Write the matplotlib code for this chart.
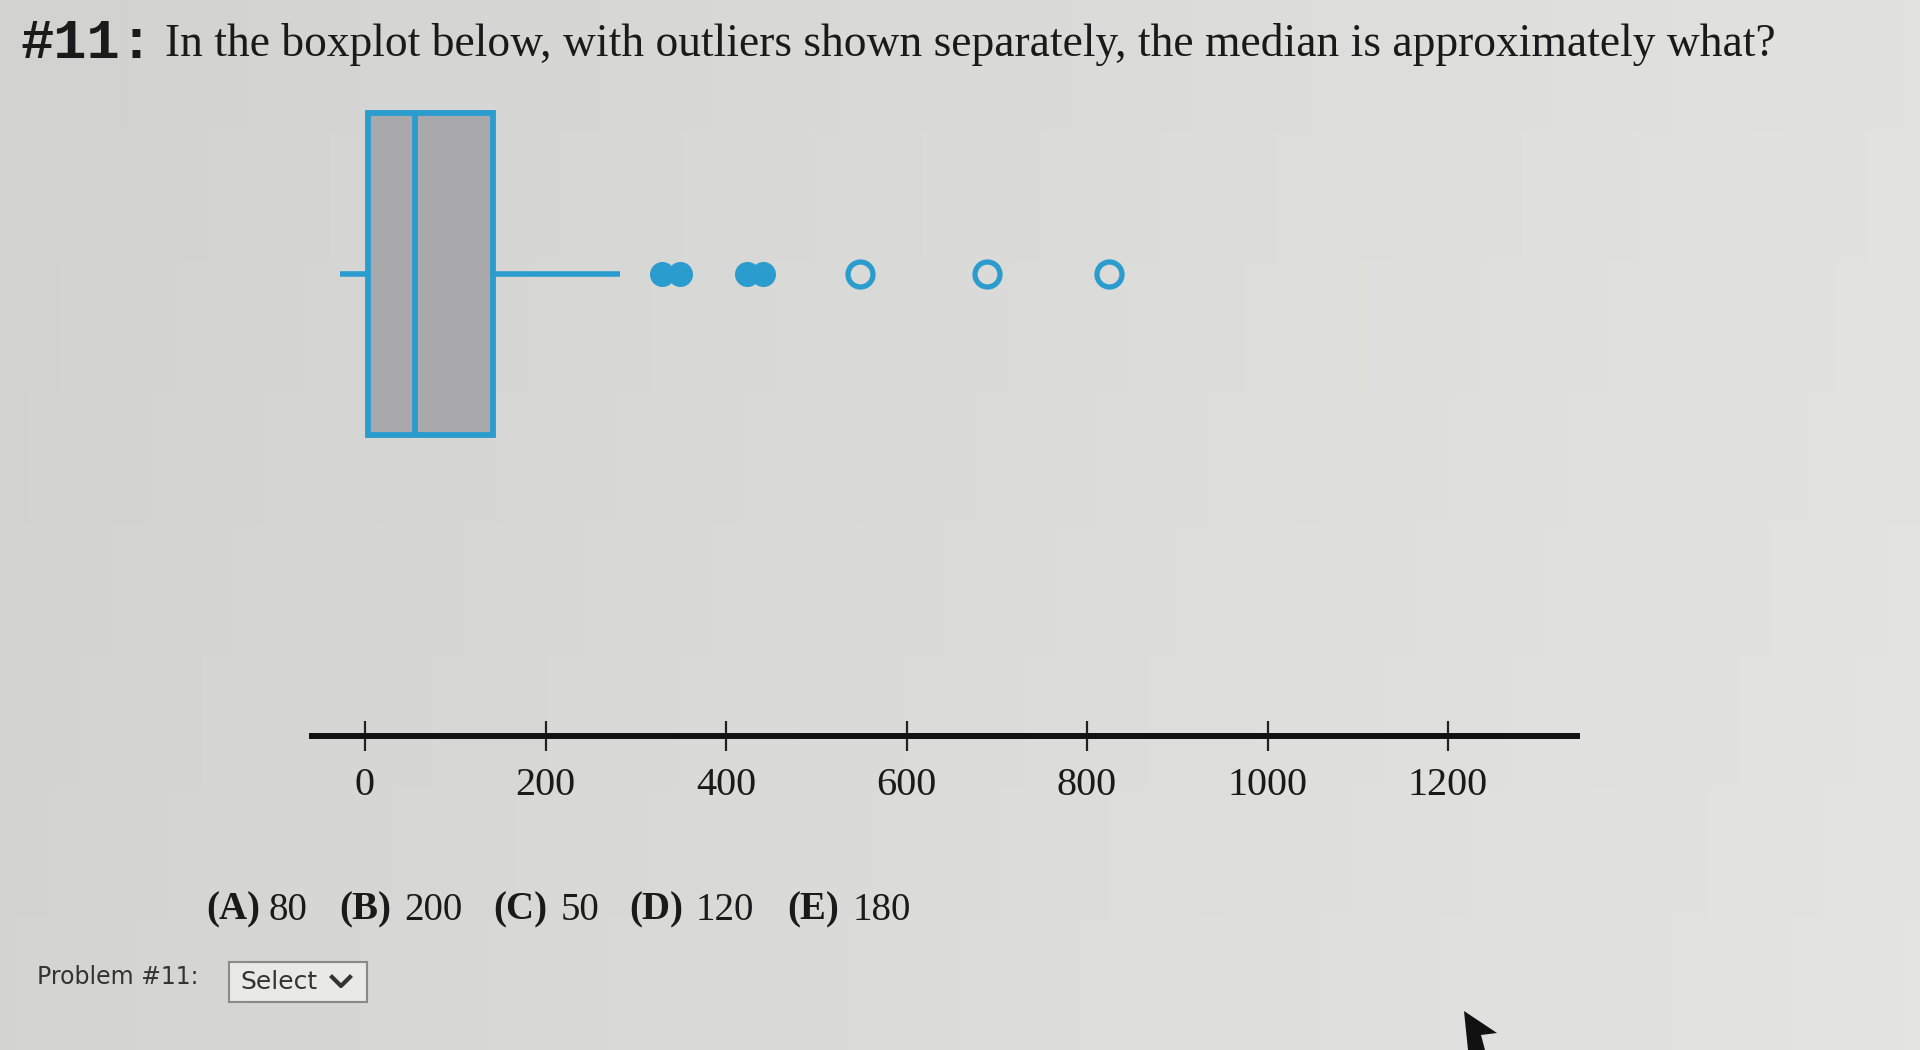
import matplotlib.pyplot as plt
import numpy as np
from matplotlib.patches import Rectangle, Polygon
from matplotlib.lines import Line2D
from matplotlib.colors import LinearSegmentedColormap

# boxplot summary
whislo, q1, med, q3, whishi = -28, 3, 55, 142, 283
fliers_filled = [329, 349, 423, 441]
fliers_hollow = [548, 689, 824]
ticks = [0, 200, 400, 600, 800, 1000, 1200]
choice_letters = ['A', 'B', 'C', 'D', 'E']
choice_values = ['80', '200', '50', '120', '180']

blue = '#2a9ccd'
box_gray = '#a9a9ab'
W, H = 1920, 1050

fig = plt.figure(figsize=(W / 100, H / 100), dpi=100)

# photo-like background, darker on the left
bg = fig.add_axes([0, 0, 1, 1], zorder=-10)
bg_cmap = LinearSegmentedColormap.from_list('bg', ['#d2d2d0', '#e4e4e2'])
grad = np.linspace(0, 1, 256)[None, :] * np.ones((8, 1))
grad = grad + np.linspace(0.0, 0.12, 8)[:, None]
bg.imshow(grad, cmap=bg_cmap, vmin=0, vmax=1.12, aspect='auto', extent=[0, 1, 0, 1])
bg.set_axis_off()

# main axes: only the bottom spine is visible
ax = fig.add_axes([312 / W, 1 - 736 / H, (1577 - 312) / W, 636 / H])
ax.patch.set_alpha(0)
ax.set_xlim((312 - 365) / 0.9025, (1577 - 365) / 0.9025)
ax.set_ylim(0, 1)
pos = 0.7265

stats = [dict(whislo=whislo, q1=q1, med=med, q3=q3, whishi=whishi, fliers=[])]
ax.bxp(stats, positions=[pos], widths=0.507, orientation='horizontal',
       showcaps=False, showfliers=False, patch_artist=True, manage_ticks=False,
       boxprops=dict(facecolor=box_gray, edgecolor=blue, linewidth=4.2),
       medianprops=dict(color=blue, linewidth=4.2),
       whiskerprops=dict(color=blue, linewidth=4, solid_capstyle='butt'))
ax.plot(fliers_filled, [pos] * len(fliers_filled), 'o', ms=17, mfc=blue, mec=blue,
        mew=1, ls='none', clip_on=False)
ax.plot(fliers_hollow, [pos] * len(fliers_hollow), 'o', ms=18, mfc='none', mec=blue,
        mew=3.8, ls='none', clip_on=False)

for s in ['left', 'top', 'right']:
    ax.spines[s].set_visible(False)
ax.spines['bottom'].set_linewidth(4.3)
ax.spines['bottom'].set_color('#111111')
ax.set_yticks([])
ax.set_xticks(ticks)
ax.set_xticklabels([str(t) for t in ticks], family='Liberation Serif', fontsize=29,
                   color='#1a1a1a')
ax.tick_params(axis='x', direction='inout', length=22, width=1.6, color='#222222', pad=11)

# question title
fig.text(20 / W, 1 - 44 / H, '#11:', family='Liberation Mono', weight='bold',
         fontsize=40, color='#1a1a1a', va='center', ha='left')
fig.text(165 / W, 1 - 45 / H,
         'In the boxplot below, with outliers shown separately, the median is approximately what?',
         family='Liberation Serif', fontsize=32.8, color='#1a1a1a', va='center', ha='left')

# answer choices
letter_x = [206, 339, 493, 629, 787]
value_x = [269, 404, 561, 696, 853]
for lt, vl, lx, vx in zip(choice_letters, choice_values, letter_x, value_x):
    fig.text(lx / W, 1 - 910 / H, '(' + lt + ')', family='Liberation Serif',
             weight='bold', fontsize=28, color='#1a1a1a', va='center', ha='left')
    fig.text(vx / W, 1 - 910 / H, vl, family='Liberation Serif',
             fontsize=28, color='#1a1a1a', va='center', ha='left')

# problem selector
fig.text(37 / W, 1 - 977 / H, 'Problem #11:', family='DejaVu Sans', fontsize=17,
         color='#333333', va='center', ha='left')
fig.patches.append(Rectangle((229 / W, 1 - 1002 / H), 138 / W, 40 / H,
                             transform=fig.transFigure, facecolor='#e9e9e7',
                             edgecolor='#8a8a8a', linewidth=1.5))
fig.text(240 / W, 1 - 982 / H, 'Select', family='DejaVu Sans', fontsize=18,
         color='#333333', va='center', ha='left')
fig.lines.append(Line2D([332 / W, 341 / W, 350 / W],
                        [1 - 977 / H, 1 - 986 / H, 1 - 977 / H],
                        transform=fig.transFigure, color='#333333', linewidth=3))

# mouse cursor in the corner
cur = np.array([[1464, 1011], [1497, 1033], [1481, 1035], [1485, 1050], [1468, 1050]])
fig.patches.append(Polygon(np.c_[cur[:, 0] / W, 1 - cur[:, 1] / H], closed=True,
                           transform=fig.transFigure, facecolor='#111111',
                           edgecolor='none'))

fig.savefig('out.png', dpi=100)
